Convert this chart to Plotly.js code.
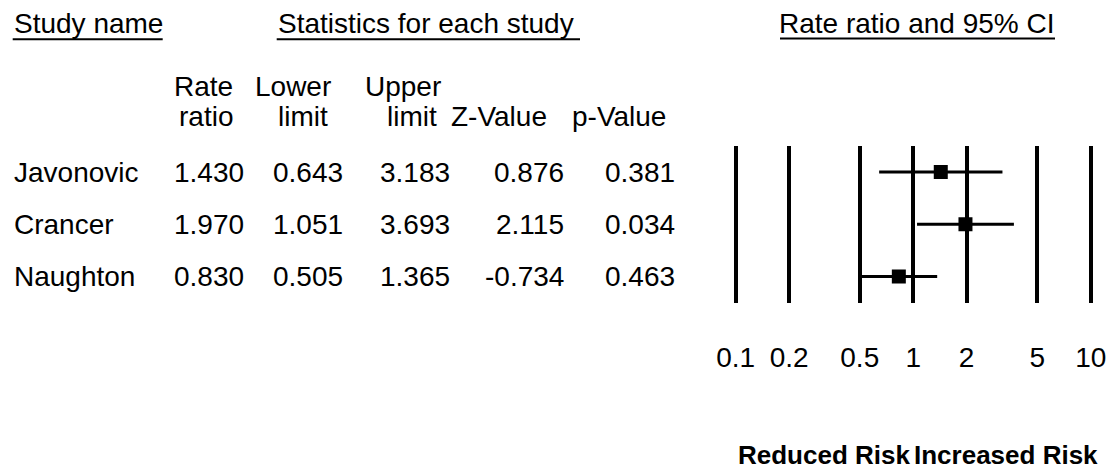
<!DOCTYPE html>
<html>
<head>
<meta charset="utf-8">
<script src="https://cdn.plot.ly/plotly-3.0.1.min.js"></script>
<style>
  html, body { margin: 0; padding: 0; background: #fff; }
  #chart { width: 1110px; height: 471px; }
</style>
</head>
<body>
<div id="chart"></div>
<script>
// Study-level rate ratios with 95% confidence limits
const studies    = ['Javonovic', 'Crancer', 'Naughton'];
const rateRatio  = [1.430, 1.970, 0.830];
const lowerLimit = [0.643, 1.051, 0.505];
const upperLimit = [3.183, 3.693, 1.365];
const zValue     = [0.876, 2.115, -0.734];
const pValue     = [0.381, 0.034, 0.463];

// Axis ticks for the log-scaled rate ratio axis
const tickVals  = [0.1, 0.2, 0.5, 1, 2, 5, 10];
const tickText  = ['0.1', '0.2', '0.5', '1', '2', '5', '10'];

const W = 1110, H = 471;
const FONT = 'Liberation Sans, Arial, Helvetica, sans-serif';
const FS = 28;
const px = x => x / W;
const py = y => 1 - y / H;

// plot frame: 0.1 sits at x=735.7, 10 at x=1090.7, rows from y=146 to y=303
const perDecade = (1090.7 - 735.7) / 2;
const pad = 0.05;
const xDomain = [px(735.7 - pad * perDecade), px(1090.7 + pad * perDecade)];
const yDomain = [py(302.7), py(146)];

// confidence-interval segments, one per study, separated by gaps
const ciX = [], ciY = [];
studies.forEach((s, i) => {
  ciX.push(lowerLimit[i], upperLimit[i], null);
  ciY.push(i, i, null);
});

const traces = [
  {
    type: 'scatter', mode: 'lines',
    x: ciX, y: ciY,
    line: { color: '#000', width: 3 },
    hoverinfo: 'skip', showlegend: false
  },
  {
    type: 'scatter', mode: 'markers',
    x: rateRatio, y: studies.map((s, i) => i),
    marker: { symbol: 'square', size: 14, color: '#000' },
    text: studies,
    hovertemplate: '%{text}: %{x:.3f}<extra></extra>',
    showlegend: false
  }
];

const annotations = [];
const txt = (text, x, y, anchor, extra) => Object.assign({
  text: text, xref: 'paper', yref: 'paper', x: px(x), y: py(y),
  xanchor: anchor, yanchor: 'middle', showarrow: false, borderpad: 0,
  font: { family: FONT, size: FS, color: '#000' }
}, extra || {});

// section headers
annotations.push(txt('Study name', 12.7, 23.5, 'left'));
annotations.push(txt('Statistics for each study', 276.7, 23.5, 'left'));
annotations.push(txt('Rate ratio and 95% CI', 1056, 23.5, 'right'));

// column headers
annotations.push(txt('Rate', 203.3, 87, 'center'));
annotations.push(txt('ratio', 205.8, 117, 'center'));
annotations.push(txt('Lower', 293, 87, 'center'));
annotations.push(txt('limit', 302.5, 117, 'center'));
annotations.push(txt('Upper', 403.3, 87, 'center'));
annotations.push(txt('limit', 411.7, 117, 'center'));
annotations.push(txt('Z-Value', 499, 117, 'center'));
annotations.push(txt('p-Value', 619, 117, 'center'));

// table rows, aligned with the plot rows
const colRight = [245, 344, 451, 565, 676];
studies.forEach((name, i) => {
  const cells = [rateRatio[i], lowerLimit[i], upperLimit[i], zValue[i], pValue[i]]
    .map(v => v.toFixed(3));
  const rowY = { yref: 'y', y: i };
  annotations.push(Object.assign(txt(name, 13.3, 0, 'left'), rowY));
  cells.forEach((c, k) => {
    annotations.push(Object.assign(txt(c, colRight[k], 0, 'right'), rowY));
  });
});

// direction labels either side of a ratio of 1
const dirFont = { family: FONT, size: 26, color: '#000' };
annotations.push(Object.assign(txt('<b>Reduced Risk</b>', 0, 455, 'right'), { xref: 'x', x: 0, xshift: -2, font: dirFont }));
annotations.push(Object.assign(txt('<b>Increased Risk</b>', 0, 455, 'left'), { xref: 'x', x: 0, font: dirFont }));

// header underlines
const underline = (x0, x1, y) => ({
  type: 'line', xref: 'paper', yref: 'paper',
  x0: px(x0), x1: px(x1), y0: py(y), y1: py(y),
  line: { color: '#000', width: 2 }
});
const shapes = [
  underline(12.7, 162.7, 39.3),
  underline(276.7, 580, 39.3),
  underline(780, 1055, 38.5)
];

const layout = {
  width: W, height: H,
  margin: { l: 0, r: 0, t: 0, b: 0, pad: 0 },
  paper_bgcolor: '#fff', plot_bgcolor: '#fff',
  showlegend: false,
  font: { family: FONT, size: FS, color: '#000' },
  xaxis: {
    type: 'log',
    domain: xDomain,
    range: [-1 - pad, 1 + pad],
    tickmode: 'array', tickvals: tickVals, ticktext: tickText,
    showgrid: true, gridcolor: '#000', gridwidth: 4,
    ticks: 'outside', ticklen: 30, tickcolor: 'rgba(0,0,0,0)',
    tickfont: { family: FONT, size: FS, color: '#000' },
    showline: false, zeroline: false, automargin: false, fixedrange: true
  },
  yaxis: {
    domain: yDomain,
    range: [2.5, -0.5],
    showgrid: false, zeroline: false, showline: false,
    showticklabels: false, ticks: '', automargin: false, fixedrange: true
  },
  annotations: annotations,
  shapes: shapes
};

Plotly.newPlot('chart', traces, layout, { displayModeBar: false, staticPlot: true });
</script>
</body>
</html>
